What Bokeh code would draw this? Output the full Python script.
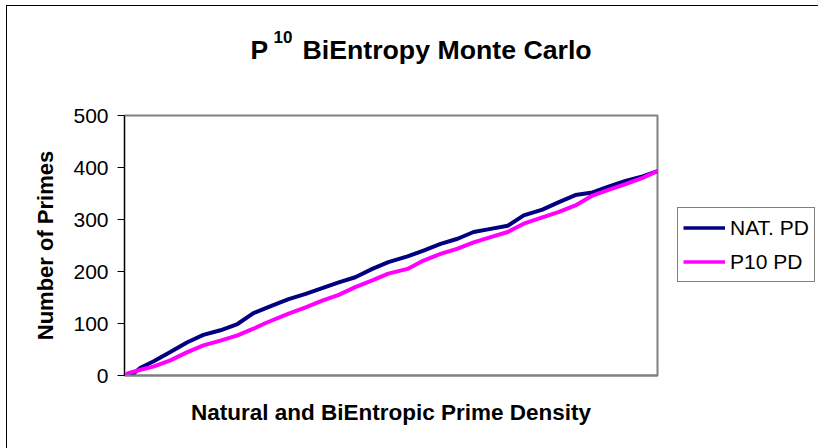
from bokeh.plotting import figure
from bokeh.models import Range1d, FixedTicker, Legend, LegendItem, Label
from bokeh.layouts import column, row
from bokeh.embed import file_html
from bokeh.resources import INLINE

FONT = "Liberation Sans"

# ---- data ----
nat_x = [0, 17, 30, 54, 86, 118, 148, 180, 212, 242, 278, 308, 340, 371, 402,
         433, 465, 495, 531, 561, 593, 625, 655, 687, 719, 749, 784, 814, 846,
         878, 908, 940, 972, 1000]
nat_y = [0, 4, 15, 27, 45, 64, 78, 87, 99, 120, 135, 147, 157, 168, 179,
         189, 205, 218, 229, 240, 253, 263, 276, 282, 288, 308, 319, 333, 347,
         352, 363, 374, 383, 393]

p10_x = [0, 6, 30, 54, 86, 118, 148, 180, 212, 242, 265, 308, 340, 371, 402,
         433, 465, 495, 531, 561, 593, 625, 655, 687, 719, 749, 784, 814, 846,
         878, 908, 940, 972, 1000]
p10_y = [0, 4, 11, 17, 29, 45, 58, 67, 77, 90, 101, 119, 131, 144, 155,
         170, 183, 196, 205, 221, 234, 244, 256, 266, 276, 292, 304, 314, 327,
         346, 357, 368, 380, 393]

y_ticks = [0, 100, 200, 300, 400, 500]
series_names = ["NAT. PD", "P10 PD"]
series_colors = ["#000080", "#FF00FF"]
title_base = "P"
title_sup = "10"
title_main = "BiEntropy Monte Carlo"
x_title = "Natural and BiEntropic Prime Density"
y_title = "Number of Primes"


def blank(fig):
    fig.xgrid.visible = False
    fig.ygrid.visible = False
    fig.outline_line_color = None
    fig.background_fill_alpha = 0
    fig.border_fill_alpha = 0


# ---------------- title strip ----------------
tf = figure(width=818, height=95, output_backend="svg", toolbar_location=None,
            x_axis_location=None, y_axis_location=None, min_border=0,
            x_range=Range1d(0, 1), y_range=Range1d(0, 1))
blank(tf)
tf.add_layout(Label(x=250, y=46, x_units="screen", y_units="screen", text=title_base,
                    text_font=FONT, text_font_size="26.5px", text_font_style="bold",
                    text_baseline="alphabetic", text_color="black"))
tf.add_layout(Label(x=273, y=59, x_units="screen", y_units="screen", text=title_sup,
                    text_font=FONT, text_font_size="17px", text_font_style="bold",
                    text_baseline="alphabetic", text_color="black"))
tf.add_layout(Label(x=302, y=46, x_units="screen", y_units="screen", text=title_main,
                    text_font=FONT, text_font_size="26.7px", text_font_style="bold",
                    text_baseline="alphabetic", text_color="black"))

# ---------------- main chart ----------------
p = figure(width=659, height=353, output_backend="svg", toolbar_location=None,
           x_range=Range1d(0, 1000), y_range=Range1d(0, 500),
           min_border_left=124, min_border_right=2,
           min_border_top=20, min_border_bottom=73)
p.xgrid.visible = False
p.ygrid.visible = False
p.background_fill_color = "white"
p.border_fill_alpha = 0
p.outline_line_color = "#808080"
p.outline_line_width = 2

p.yaxis.ticker = FixedTicker(ticks=y_ticks)
p.yaxis.minor_tick_line_color = None
p.yaxis.major_tick_out = 7
p.yaxis.major_tick_in = 0
p.yaxis.major_tick_line_color = "black"
p.yaxis.axis_line_color = "black"
p.yaxis.major_label_standoff = 9
p.yaxis.major_label_text_font = FONT
p.yaxis.major_label_text_font_size = "21px"
p.yaxis.major_label_text_color = "black"
p.yaxis.axis_label = y_title
p.yaxis.axis_label_text_font = FONT
p.yaxis.axis_label_text_font_size = "22px"
p.yaxis.axis_label_text_font_style = "bold"
p.yaxis.axis_label_text_color = "black"
p.yaxis.axis_label_standoff = 12

p.xaxis.ticker = FixedTicker(ticks=[])
p.xaxis.minor_tick_line_color = None
p.xaxis.major_tick_line_color = None
p.xaxis.major_tick_out = 0
p.xaxis.major_label_standoff = 0
p.xaxis.axis_line_color = "#808080"
p.xaxis.axis_line_width = 2
p.xaxis.axis_label = x_title
p.xaxis.axis_label_text_font = FONT
p.xaxis.axis_label_text_font_size = "22.5px"
p.xaxis.axis_label_text_font_style = "bold"
p.xaxis.axis_label_text_color = "black"
p.xaxis.axis_label_standoff = 24

p.line(nat_x, nat_y, line_color=series_colors[0], line_width=4)
p.line(p10_x, p10_y, line_color=series_colors[1], line_width=4)

# ---------------- legend strip ----------------
lf = figure(width=159, height=353, output_backend="svg", toolbar_location=None,
            x_axis_location=None, y_axis_location=None, min_border=0,
            x_range=Range1d(0, 1), y_range=Range1d(0, 1))
blank(lf)
k1 = lf.line(nat_x, nat_y, line_color=series_colors[0], line_width=3.5, visible=False)
k2 = lf.line(p10_x, p10_y, line_color=series_colors[1], line_width=3.5, visible=False)
legend = Legend(items=[LegendItem(label=series_names[0], renderers=[k1]),
                       LegendItem(label=series_names[1], renderers=[k2])],
                location=(18, 93))
legend.label_text_font = FONT
legend.label_text_font_size = "21px"
legend.label_text_color = "black"
legend.border_line_color = "black"
legend.border_line_width = 1
legend.background_fill_color = "white"
legend.background_fill_alpha = 1
legend.padding = 5
legend.spacing = 5
legend.margin = 0
legend.glyph_width = 42
legend.glyph_height = 29
legend.label_height = 29
legend.label_standoff = 5
lf.add_layout(legend)

layout = column(tf, row(p, lf, spacing=0), spacing=0)
layout.styles = {"background-color": "white",
                 "box-shadow": "inset 6px 5px 0 0 white, inset 7px 6px 0 0 black"}

open("out.html", "w").write(file_html(layout, INLINE))
